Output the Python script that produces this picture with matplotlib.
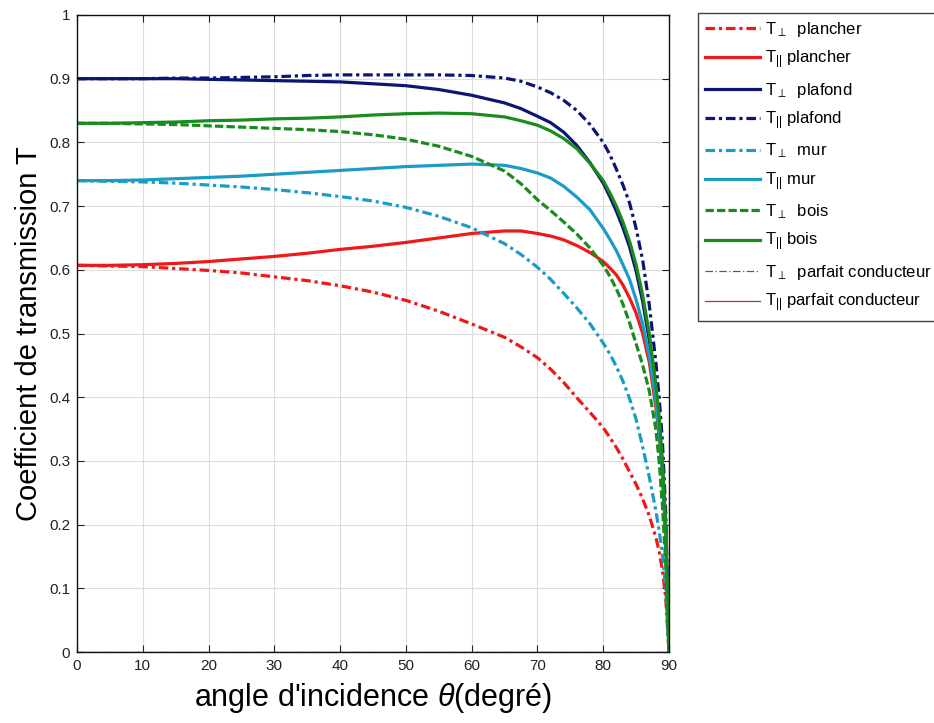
import matplotlib
matplotlib.use("Agg")
import matplotlib.pyplot as plt
from matplotlib.ticker import FuncFormatter

plt.rcParams['font.family'] = ['Liberation Sans', 'DejaVu Sans']
plt.rcParams['mathtext.fontset'] = 'custom'
plt.rcParams['mathtext.rm'] = 'Liberation Sans'
plt.rcParams['mathtext.it'] = 'Liberation Sans:italic'
plt.rcParams['mathtext.fallback'] = 'stixsans'

# angle d'incidence (degrés)
theta = [0, 5, 10, 15, 20, 25, 30, 35, 40, 45, 50, 55, 60, 65, 67.5, 70, 72, 74, 76, 78,
         80, 81, 82, 83, 84, 85, 86, 87, 88, 88.5, 89, 89.5, 90]

t_perp_plancher = [0.607, 0.606, 0.605, 0.602, 0.599, 0.595, 0.589, 0.583, 0.575, 0.565, 0.552,
                   0.535, 0.515, 0.494, 0.479, 0.462, 0.444, 0.423, 0.399, 0.376, 0.352, 0.337,
                   0.321, 0.303, 0.283, 0.263, 0.240, 0.214, 0.180, 0.158, 0.128, 0.085, 0.0]
t_par_plancher = [0.607, 0.607, 0.608, 0.610, 0.613, 0.617, 0.621, 0.626, 0.632, 0.637, 0.643,
                  0.650, 0.657, 0.661, 0.661, 0.657, 0.653, 0.647, 0.638, 0.627, 0.613, 0.603,
                  0.592, 0.576, 0.556, 0.532, 0.500, 0.455, 0.385, 0.340, 0.280, 0.180, 0.0]
t_perp_plafond = [0.900, 0.900, 0.900, 0.900, 0.899, 0.898, 0.897, 0.896, 0.895, 0.892, 0.889,
                  0.883, 0.874, 0.862, 0.853, 0.841, 0.831, 0.816, 0.795, 0.768, 0.736, 0.715,
                  0.692, 0.666, 0.636, 0.598, 0.550, 0.490, 0.410, 0.360, 0.290, 0.190, 0.0]
t_par_plafond = [0.900, 0.900, 0.900, 0.901, 0.901, 0.902, 0.903, 0.905, 0.906, 0.906, 0.906,
                 0.906, 0.905, 0.901, 0.896, 0.887, 0.878, 0.866, 0.850, 0.828, 0.800, 0.781,
                 0.758, 0.733, 0.705, 0.665, 0.615, 0.545, 0.455, 0.400, 0.330, 0.220, 0.0]
t_perp_mur = [0.740, 0.739, 0.738, 0.736, 0.733, 0.730, 0.726, 0.721, 0.715, 0.708, 0.698,
              0.684, 0.666, 0.641, 0.624, 0.604, 0.585, 0.563, 0.540, 0.515, 0.485, 0.468,
              0.448, 0.425, 0.398, 0.365, 0.322, 0.275, 0.222, 0.190, 0.155, 0.100, 0.0]
t_par_mur = [0.740, 0.740, 0.741, 0.743, 0.745, 0.747, 0.750, 0.753, 0.756, 0.759, 0.762,
             0.764, 0.766, 0.764, 0.759, 0.752, 0.744, 0.731, 0.714, 0.694, 0.665, 0.648,
             0.630, 0.608, 0.585, 0.553, 0.515, 0.465, 0.395, 0.345, 0.280, 0.180, 0.0]
t_perp_bois = [0.830, 0.830, 0.829, 0.828, 0.826, 0.824, 0.822, 0.820, 0.817, 0.812, 0.805,
               0.794, 0.778, 0.755, 0.735, 0.710, 0.693, 0.675, 0.656, 0.634, 0.607, 0.590,
               0.570, 0.546, 0.517, 0.484, 0.450, 0.410, 0.350, 0.300, 0.230, 0.140, 0.0]
t_par_bois = [0.830, 0.830, 0.831, 0.832, 0.834, 0.835, 0.837, 0.838, 0.840, 0.843, 0.845,
              0.846, 0.845, 0.840, 0.834, 0.827, 0.818, 0.806, 0.790, 0.767, 0.740, 0.721,
              0.700, 0.675, 0.645, 0.608, 0.560, 0.500, 0.420, 0.370, 0.300, 0.200, 0.0]
t_perp_pc = [0.0] * len(theta)
t_par_pc = [0.0] * len(theta)

labels = [r'T$_{\perp}$  plancher', r'T$_{||}$ plancher',
          r'T$_{\perp}$  plafond', r'T$_{||}$ plafond',
          r'T$_{\perp}$  mur', r'T$_{||}$ mur',
          r'T$_{\perp}$  bois', r'T$_{||}$ bois',
          r'T$_{\perp}$  parfait conducteur', r'T$_{||}$ parfait conducteur']

red = '#f01818'
navy = '#0c1476'
cyan = '#1c9cc4'
green = '#1a8c1e'
purple = '#a2307c'
dashdot = (0, (3.0, 1.2, 1.0, 1.2))
dashed = (0, (2.6, 1.0))

series = [
    (t_perp_plancher, red, dashdot, 2.3),
    (t_par_plancher, red, '-', 2.3),
    (t_perp_plafond, navy, '-', 2.3),
    (t_par_plafond, navy, dashdot, 2.3),
    (t_perp_mur, cyan, dashdot, 2.3),
    (t_par_mur, cyan, '-', 2.3),
    (t_perp_bois, green, dashed, 2.3),
    (t_par_bois, green, '-', 2.3),
    (t_perp_pc, purple, (0, (6, 2, 1, 2)), 0.9),
    (t_par_pc, purple, '-', 0.9),
]

fig = plt.figure(figsize=(9.34, 7.23), dpi=100)
ax = fig.add_axes([77/934, 71/723, (669-77)/934, (652-15)/723])

for (vals, col, ls, lw), lab in zip(series, labels):
    ax.plot(theta, vals, color=col, linestyle=ls, linewidth=lw, label=lab)

ax.set_xlim(0, 90)
ax.set_ylim(0, 1)
ax.set_xticks(range(0, 91, 10))
ax.set_yticks([i / 10 for i in range(11)])
ax.yaxis.set_major_formatter(FuncFormatter(lambda v, p: '%g' % round(v, 1)))
ax.tick_params(direction='in', top=True, right=True, length=5, width=0.8,
               labelsize=11, colors='#222222', pad=5)
ax.grid(True, color='#dcdcdc', linewidth=0.8)
for s in ax.spines.values():
    s.set_linewidth(1.0)
    s.set_color('#111111')

ax.set_xlabel(r"angle d'incidence $\theta$(degré)", fontsize=22, labelpad=6)
ax.set_ylabel('Coefficient de transmission T', fontsize=21, labelpad=4)

leg = fig.legend(loc='upper left', bbox_to_anchor=(698/934, 1 - 13/723),
                 fontsize=12, handlelength=3.3, handletextpad=0.3,
                 labelspacing=0.58, borderpad=0.4, borderaxespad=0.0,
                 fancybox=False, frameon=True)
leg.get_frame().set_edgecolor('#111111')
leg.get_frame().set_linewidth(1.0)

fig.savefig('out.png', dpi=100)
